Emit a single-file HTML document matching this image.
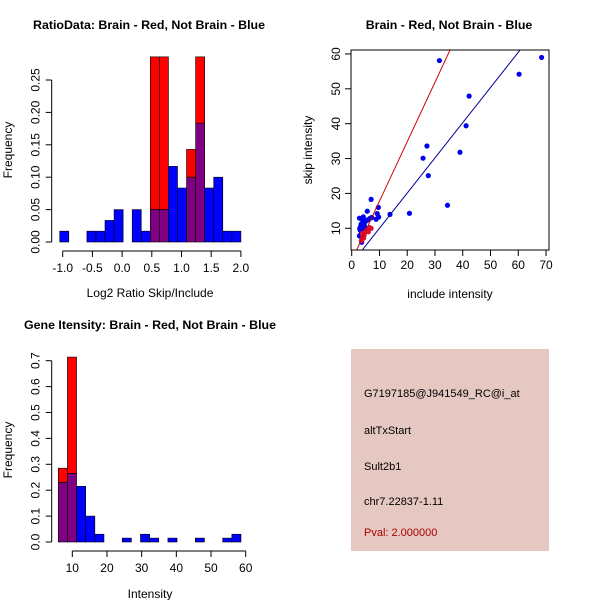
<!DOCTYPE html>
<html><head><meta charset="utf-8"><style>
body{margin:0;background:#fff}
svg{display:block;font-family:"Liberation Sans",sans-serif}
</style></head><body>
<svg id="s" width="600" height="600">
<rect width="600" height="600" fill="#fff"/>
</svg>
<script>
// Panel 1: ratio histogram
const ratioBinStart = -1.05;
const ratioBinWidth = 0.1525;
const ratioBlue = [0.0167,0,0,0.0167,0.0167,0.0333,0.05,0,0.05,0.0167,0.05,0.05,0.1167,0.0833,0.1,0.1833,0.0833,0.1,0.0167,0.0167];
const ratioRed  = [0,0,0,0,0,0,0,0,0,0,0.2857,0.2857,0,0,0.1429,0.2857,0,0,0,0];
const ratioXTicks = ["-1.0","-0.5","0.0","0.5","1.0","1.5","2.0"];
const ratioYTicks = ["0.00","0.05","0.10","0.15","0.20","0.25"];
// Panel 2: scatter
const blueX = [31.6,68.4,60.3,42.3,41.2,39,27.1,25.7,27.6,34.5,20.8,13.8,9.6,7,5.6,9.2,9.7,8.8,7.2,4.2,2.8,3,3.5,4,4.5,3.2,5,4,3,2.8,3.6,4.2,5.5,6,4.8,3.4,2.9,4,6.5];
const blueY = [58.1,59,54.2,47.9,39.4,31.8,33.6,30.1,25.1,16.6,14.3,14,16,18.3,14.9,14.2,13.2,12.6,13.1,13.3,12.9,8,9,10,11,10.5,12,11.5,9.5,7.8,6,8.6,12.3,12.5,10.2,11.2,10,12.2,12.8];
const redX = [3.5,4,4.5,5,5.5,6,7,4.3,6.5,3.8];
const redY = [6.5,7.5,8,9,9.5,9,10,7.2,10.2,8.5];
const fitSlope = [1.705,1.009];
const fitIntercept = [0.73,-0.07];
const scatXTicks = [0,10,20,30,40,50,60,70];
const scatYTicks = [10,20,30,40,50,60];
// Panel 3: intensity histogram
const intBinStart = 5.96;
const intBinWidth = 2.634;
const intBlue = [0.23,0.265,0.215,0.1,0.03,0,0,0.015,0,0.03,0.015,0,0.015,0,0,0.015,0,0,0.015,0.03];
const intRed  = [0.285,0.714,0,0,0,0,0,0,0,0,0,0,0,0,0,0,0,0,0,0];
const intXTicks = [10,20,30,40,50,60];
const intYTicks = ["0.0","0.1","0.2","0.3","0.4","0.5","0.6","0.7"];

const NS="http://www.w3.org/2000/svg", svg=document.getElementById('s');
function mk(tag,attrs,parent,text){const e=document.createElementNS(NS,tag);for(const k in attrs)e.setAttribute(k,attrs[k]);if(text!==undefined)e.textContent=text;(parent||svg).appendChild(e);return e;}
function grp(name){const g=mk('g',{});return g;}
const F=12, TF=12.4;

function histogram(name,xs,ys,binStart,binW,blue,red,xt,yt,xTickVals,yTickVals,axY,axX){
  const g=grp(name);
  const bars=grp(name+'-bars'); g.appendChild(bars);
  for(let i=0;i<blue.length;i++){
    const x0=xs(binStart+i*binW), x1=xs(binStart+(i+1)*binW);
    const b=blue[i], r=red[i], lo=Math.min(b,r), hi=Math.max(b,r);
    if(hi<=0) continue;
    const topCol = r>b ? '#ff0000' : '#0000ff';
    const e=mk('rect',{x:x0,y:ys(hi),width:x1-x0,height:ys(lo)-ys(hi),fill:topCol,stroke:'#000','stroke-width':0.6},bars);
    
    
    if(lo>0){
      const p=mk('rect',{x:x0,y:ys(lo),width:x1-x0,height:ys(0)-ys(lo),fill:'#7f0080',stroke:'#000','stroke-width':0.6},bars);
      
      
    }
  }
  const xa=grp(name+'-x-axis'); g.appendChild(xa);
  mk('line',{x1:xs(xTickVals[0]),x2:xs(xTickVals[xTickVals.length-1]),y1:axY,y2:axY,stroke:'#000'},xa);
  xTickVals.forEach((v,i)=>{const x=xs(v);mk('line',{x1:x,x2:x,y1:axY,y2:axY+6,stroke:'#000'},xa);
    mk('text',{x:x,y:axY+21,'text-anchor':'middle','font-size':F},xa,xt[i]);});
  const ya=grp(name+'-y-axis'); g.appendChild(ya);
  mk('line',{x1:axX,x2:axX,y1:ys(yTickVals[0]),y2:ys(yTickVals[yTickVals.length-1]),stroke:'#000'},ya);
  yTickVals.forEach((v,i)=>{const y=ys(v);mk('line',{x1:axX-6,x2:axX,y1:y,y2:y,stroke:'#000'},ya);
    mk('text',{x:axX-12,y:y,'text-anchor':'middle','font-size':F,transform:`rotate(-90 ${axX-12} ${y})`},ya,yt[i]);});
  return g;
}

// Panel 1
{
  const xs=v=>62.7+(v+1)*59.4, ys=v=>242-v*648;
  histogram('ratio-histogram',xs,ys,ratioBinStart,ratioBinWidth,ratioBlue,ratioRed,ratioXTicks,ratioYTicks,
    [-1,-0.5,0,0.5,1,1.5,2],[0,0.05,0.1,0.15,0.2,0.25],251,51.7);
  let t=mk('text',{x:149,y:29,'text-anchor':'middle','font-size':TF,'font-weight':'bold'},svg,'RatioData: Brain - Red, Not Brain - Blue');
  
  t=mk('text',{x:150,y:297,'text-anchor':'middle','font-size':F},svg,'Log2 Ratio Skip/Include');
  
  t=mk('text',{x:12,y:150,'text-anchor':'middle','font-size':F,transform:'rotate(-90 12 150)'},svg,'Frequency');
  
}
// Panel 3
{
  const xs=v=>72.3+(v-10)*3.468, ys=v=>542-v*259;
  histogram('intensity-histogram',xs,ys,intBinStart,intBinWidth,intBlue,intRed,intXTicks,intYTicks,
    [10,20,30,40,50,60],[0,0.1,0.2,0.3,0.4,0.5,0.6,0.7],551,51.7);
  let t=mk('text',{x:150,y:329,'text-anchor':'middle','font-size':TF,'font-weight':'bold'},svg,'Gene Itensity: Brain - Red, Not Brain - Blue');
  
  t=mk('text',{x:150,y:598,'text-anchor':'middle','font-size':F},svg,'Intensity');
  
  t=mk('text',{x:12,y:450,'text-anchor':'middle','font-size':F,transform:'rotate(-90 12 450)'},svg,'Frequency');
  
}
// Panel 2 scatter
{
  const xs=v=>351.7+v*2.776, ys=v=>228.3-(v-10)*3.487;
  const L=351,R=549,T=50,B=250;
  const g=grp('scatter-plot');
  const cp=mk('clipPath',{id:'cp'},g); mk('rect',{x:L,y:T,width:R-L,height:B-T},cp);
  const pts=grp('scatter-points'); g.appendChild(pts);
  for(let i=0;i<blueX.length;i++){const c=mk('circle',{cx:xs(blueX[i]),cy:ys(blueY[i]),r:2.6,fill:'#0000ee'},pts);
    }
  for(let i=0;i<redX.length;i++){const c=mk('circle',{cx:xs(redX[i]),cy:ys(redY[i]),r:2.6,fill:'#dd1030'},pts);
    }
  const cols=['#cc0000','#000099'];
  for(let k=0;k<2;k++){
    const x0=-5,x1=80;
    const l=mk('line',{x1:xs(x0),y1:ys(fitSlope[k]*x0+fitIntercept[k]),x2:xs(x1),y2:ys(fitSlope[k]*x1+fitIntercept[k]),stroke:cols[k],'stroke-width':1,'clip-path':'url(#cp)'},g);
    
  }
  const box=mk('rect',{x:L,y:T,width:R-L,height:B-T,fill:'none',stroke:'#000'},g);
  
  const xa=grp('scatter-x-axis'); g.appendChild(xa);
  scatXTicks.forEach(v=>{const x=xs(v);mk('line',{x1:x,x2:x,y1:B,y2:B+6,stroke:'#000'},xa);
    mk('text',{x:x,y:B+19,'text-anchor':'middle','font-size':F},xa,String(v));});
  const ya=grp('scatter-y-axis'); g.appendChild(ya);
  scatYTicks.forEach(v=>{const y=ys(v);mk('line',{x1:L-6,x2:L,y1:y,y2:y,stroke:'#000'},ya);
    mk('text',{x:L-11,y:y,'text-anchor':'middle','font-size':F,transform:`rotate(-90 ${L-11} ${y})`},ya,String(v));});
  let t=mk('text',{x:449,y:29,'text-anchor':'middle','font-size':TF,'font-weight':'bold'},svg,'Brain - Red, Not Brain - Blue');
  
  t=mk('text',{x:450,y:298,'text-anchor':'middle','font-size':F},svg,'include intensity');
  
  t=mk('text',{x:312,y:150,'text-anchor':'middle','font-size':F,transform:'rotate(-90 312 150)'},svg,'skip intensity');
  
}
// Panel 4 info box
{
  const g=grp('info-panel');
  mk('rect',{x:351,y:349,width:198,height:202,fill:'#e5c8c2'},g);
  const lines=[['G7197185@J941549_RC@i_at',397,'#000','probe-id'],['altTxStart',434,'#000','event-type'],['Sult2b1',470,'#000','gene-name'],['chr7.22837-1.11',505,'#000','location'],['Pval: 2.000000',536,'#aa0000','p-value']];
  lines.forEach(l=>{const t=mk('text',{x:364,y:l[1],'font-size':11,fill:l[2]},g,l[0]);
    });
}
</script>
</body></html>
